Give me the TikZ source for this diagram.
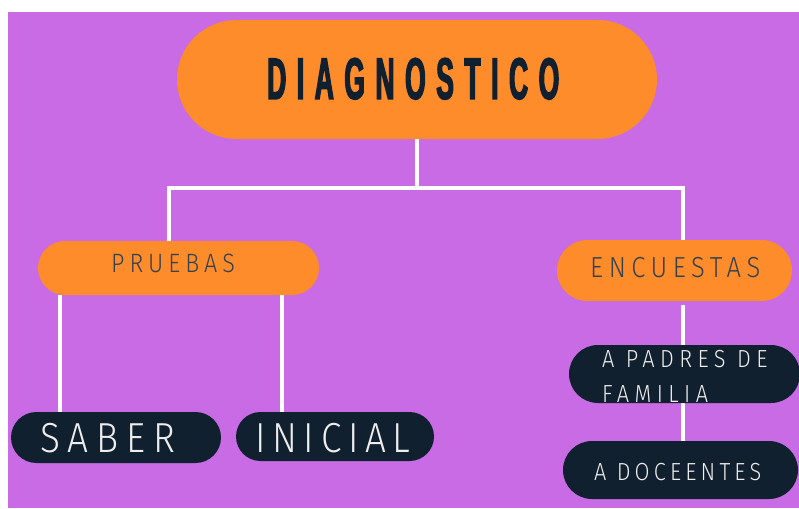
\documentclass[tikz,border=0pt]{standalone}
\usepackage{fontspec}
\usetikzlibrary{backgrounds,shapes.misc}
\newfontfamily\titlefont{Liberation Sans}[UprightFont={* Bold}, FakeStretch=0.45, FakeBold=2.2, LetterSpace=18]
\newfontfamily\lightfont{Fira Sans}[UprightFont={* Light}, FakeStretch=0.88, LetterSpace=19]
\definecolor{bgpurple}{HTML}{C86BE4}
\definecolor{pillorange}{HTML}{FE8C2A}
\definecolor{navy}{HTML}{11202F}
\definecolor{softwhite}{HTML}{EEEEEE}
\tikzset{
  pill/.style={rounded rectangle, inner sep=0pt, draw=none},
  orangepill/.style={pill, fill=pillorange},
  darkpill/.style={pill, fill=navy},
  conn/.style={white, line width=3.4pt},
  titletxt/.style={inner sep=0pt, anchor=base west, text=navy, font=\titlefont\fontsize{58.7}{60}\selectfont},
  orangetxt/.style={inner sep=0pt, anchor=base west, text=navy!85!white},
  darktxt/.style={inner sep=0pt, anchor=base west, text=softwhite},
}
\begin{document}
\begin{tikzpicture}[x=1pt,y=-1pt]
\useasboundingbox (0,0) rectangle (799,508);
% pills
\node[orangepill, minimum width=480pt, minimum height=119pt] (diag) at (417,79.5) {};
\node[orangepill, minimum width=281pt, minimum height=54pt] (prue) at (178.5,268) {};
\node[orangepill, minimum width=235pt, minimum height=61pt] (encu) at (674.5,270.5) {};
\node[darkpill, minimum width=210pt, minimum height=51pt] (saber) at (116,437.5) {};
\node[darkpill, minimum width=198pt, minimum height=49pt] (inicial) at (335,436.5) {};
\node[darkpill, minimum width=231pt, minimum height=58pt] (padres) at (684.5,374) {};
\node[darkpill, minimum width=235pt, minimum height=58pt] (doce) at (680.5,470) {};
% texts
\node[titletxt] (diagt) at (267,99) {DIAGNOSTICO};
\node[orangetxt, font=\lightfont\fontsize{26.5}{30}\selectfont] (pruet) at (111,272) {PRUEBAS};
\node[orangetxt, font=\lightfont\fontsize{29}{32}\selectfont] (encut) at (590,277) {ENCUESTAS};
\node[darktxt, font=\lightfont\fontsize{42}{46}\selectfont] (sabert) at (40,452) {SABER};
\node[darktxt, font=\lightfont\fontsize{42}{46}\selectfont\addfontfeature{LetterSpace=16}] (inicialt) at (255,452) {INICIAL};
\node[darktxt, align=left, font=\lightfont\fontsize{24.7}{35}\selectfont\addfontfeature{LetterSpace=22}] (padrest) at (602,402) {A PADRES DE\\FAMILIA};
\node[darktxt, font=\lightfont\fontsize{24.7}{30}\selectfont\addfontfeature{LetterSpace=17}] (docet) at (594,480) {A DOCEENTES};
% junction coordinates
\coordinate (jl) at (169,188);
\coordinate (jr) at (683,188);
\coordinate (pl) at (60,0);
\coordinate (pr) at (282,0);
\coordinate (er) at (683,0);
\begin{pgfonlayer}{background}
\fill[white] (0,0) rectangle (799,508);
\fill[bgpurple] (8,12) rectangle (799,508);
\draw[conn] (diag.south) -- (diag.south |- jl);
\draw[conn] (prue.north -| jl) -- (jl) -- (jr) -- (encu.north -| jr);
\draw[conn] (prue.south -| pl) -- (saber.north -| pl);
\draw[conn] (prue.south -| pr) -- (inicial.north -| pr);
\draw[conn, shorten <=4pt] (encu.south -| er) -- (doce.north -| er);
\end{pgfonlayer}
\end{tikzpicture}
\end{document}
